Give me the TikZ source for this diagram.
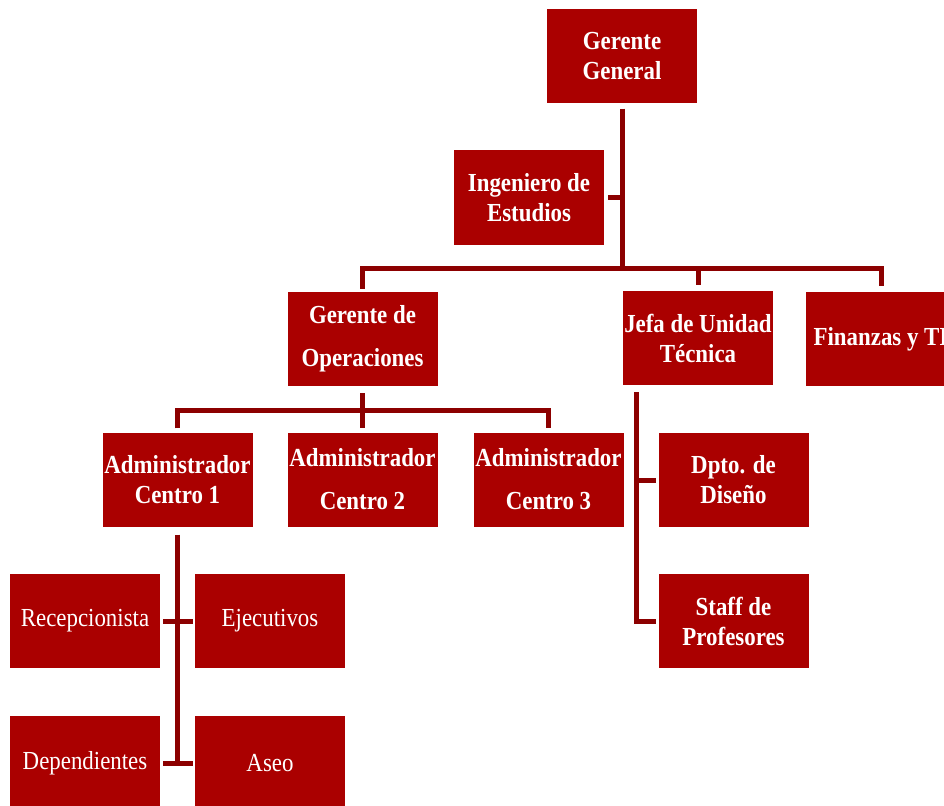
\documentclass[tikz,border=0pt]{standalone}
\usepackage{fontspec}
\setmainfont{Liberation Serif}[FakeStretch=0.88]
\usepackage{xcolor}
\usepackage{tikz}
\usetikzlibrary{positioning}
\definecolor{boxred}{HTML}{AA0000}
\definecolor{wire}{HTML}{8C0000}

\begin{document}
\begin{tikzpicture}[
  x=1pt, y=-1pt,
  font=\fontsize{26}{30}\selectfont,
  box/.style={fill=boxred, text=white, minimum width=150pt, minimum height=94pt, inner sep=0pt, align=center, font=\fontsize{26}{30}\selectfont\bfseries},
  plain/.style={box, font=\fontsize{26}{30}\selectfont},
  conn/.style={draw=wire, line width=5pt}
]
\clip (0,0) rectangle (944,805);
% level 0 and 1
\node[box] (gg) at (622,56.5) {Gerente\\General};
\node[box] (ing) at (529,197.5) {Ingeniero de\\Estudios};
\node[box] (gop) at (362.5,339) {Gerente de\\[13pt]Operaciones};
\node[box] (jefa) at (698,338) {Jefa de Unidad\\Técnica};
\node[box] (fin) at (881,339) {Finanzas y TI};
% centros
\node[box] (adm1) at (177.5,479.5) {Administrador\\Centro 1};
\node[box] (adm2) at (362.5,479.5) {Administrador\\[13pt]Centro 2};
\node[box] (adm3) at (548.5,479.5) {Administrador\\[13pt]Centro 3};
\node[box] (dpto) at (733.5,480) {Dpto. de\\Diseño};
\node[box] (staff) at (733.5,621) {Staff de\\Profesores};
% personal
\node[plain] (recep) at (85,621) {Recepcionista};
\node[plain] (ejec) at (270,621) {Ejecutivos};
\node[plain] (dep) at (85,763) {Dependientes};
\node[plain] (aseo) at (270,763) {Aseo};

\coordinate (j1) at (622,268);
\coordinate (j2) at (362.5,410);
\coordinate (t) at ([xshift=14pt]jefa.south west);

\draw[conn] ([yshift=-5pt]gg.south) -- (j1);
\draw[conn] ([xshift=4pt]ing.east) -- (ing.east -| j1);
\draw[conn] ([yshift=3pt]gop.north) -- (gop.north |- j1) -- (fin.north |- j1) -- ([yshift=6pt]fin.north);
\draw[conn] (jefa.north |- j1) -- ([yshift=6pt]jefa.north);

\draw[conn] ([yshift=-7pt]gop.south) -- (j2);
\draw[conn] ([yshift=4pt]adm1.north) -- (adm1.north |- j2) -- (adm3.north |- j2) -- ([yshift=4pt]adm3.north);
\draw[conn] (j2) -- ([yshift=4pt]adm2.north);

\draw[conn] ([yshift=-7pt]t) |- ([xshift=-2pt]staff.west);
\draw[conn] (t |- dpto.west) -- ([xshift=-2pt]dpto.west);

\draw[conn] ([yshift=-8pt]adm1.south) -- (adm1.south |- dep.east);
\draw[conn] ([xshift=3pt]recep.east) -- ([xshift=-2pt]ejec.west);
\draw[conn] ([xshift=3pt]dep.east) -- ([xshift=-2pt]aseo.west);
\end{tikzpicture}
\end{document}
